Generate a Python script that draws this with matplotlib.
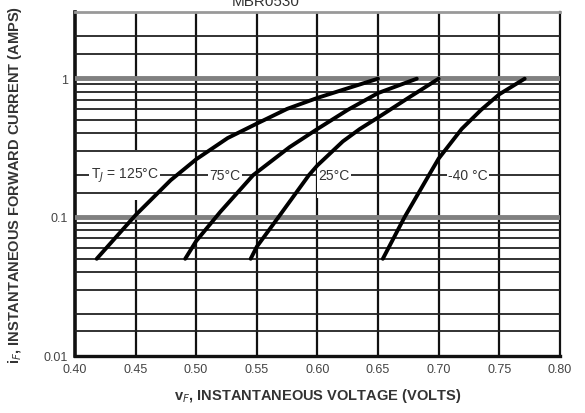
import numpy as np
import matplotlib
matplotlib.use("Agg")
import matplotlib.pyplot as plt

plt.rcParams['font.family'] = ['Liberation Sans Narrow', 'Liberation Sans', 'DejaVu Sans']

# Data (volts, amps)
v_125 = [0.418, 0.450, 0.479, 0.500, 0.526, 0.550, 0.575, 0.600, 0.626, 0.650]
i_125 = [0.050, 0.103, 0.184, 0.260, 0.370, 0.470, 0.600, 0.720, 0.850, 0.990]

v_75 = [0.491, 0.500, 0.520, 0.547, 0.577, 0.600, 0.625, 0.650, 0.682]
i_75 = [0.050, 0.067, 0.109, 0.200, 0.318, 0.430, 0.590, 0.780, 0.990]

v_25 = [0.545, 0.550, 0.568, 0.593, 0.600, 0.621, 0.635, 0.650, 0.675, 0.700]
i_25 = [0.050, 0.061, 0.100, 0.200, 0.235, 0.350, 0.430, 0.520, 0.720, 0.990]

v_m40 = [0.654, 0.672, 0.692, 0.700, 0.719, 0.735, 0.750, 0.771]
i_m40 = [0.050, 0.100, 0.200, 0.263, 0.430, 0.590, 0.764, 0.990]

curve_labels = ["T$_J$ = 125°C", "75°C", "25°C", "-40 °C"]
label_v = [0.441, 0.524, 0.614, 0.724]
label_i = 0.2

x_ticks = [0.40, 0.45, 0.50, 0.55, 0.60, 0.65, 0.70, 0.75, 0.80]
x_tick_labels = ["0.40", "0.45", "0.50", "0.55", "0.60", "0.65", "0.70", "0.75", "0.80"]
y_ticks = [0.01, 0.1, 1]
y_tick_labels = ["0.01", "0.1", "1"]

grid_levels = [0.015, 0.02, 0.03, 0.04, 0.05, 0.06, 0.07, 0.08, 0.09,
               0.15, 0.3, 0.4, 0.5, 0.6, 0.7, 0.8, 0.9, 1.5, 2]

fig = plt.figure(figsize=(5.85, 4.14), dpi=100)
ax = fig.add_axes([0.128, 0.138, 0.829, 0.831])
ax.set_yscale('log')
ax.set_xlim(0.40, 0.80)
ax.set_ylim(0.01, 3)

# Grid
for xv in x_ticks[1:-1]:
    ax.axvline(xv, color='#111111', lw=1.6, zorder=1)
for yv in grid_levels:
    ax.axhline(yv, color='#222222', lw=1.3, zorder=3)
ax.axhline(label_i, color='#222222', lw=1.3, zorder=1)
for yv in [0.1, 1]:
    ax.axhline(yv, color='#808080', lw=3.5, zorder=3)

# Labels sit on white boxes over the grid
for txt, xv in zip(curve_labels, label_v):
    ax.text(xv, label_i, "\n" + txt + "\n", ha='center', va='center',
            fontsize=10, color='#333333', linespacing=1.05, zorder=2,
            bbox=dict(facecolor='white', edgecolor='none', pad=1.0))

# Curves
for vv, ii in [(v_125, i_125), (v_75, i_75), (v_25, i_25), (v_m40, i_m40)]:
    ax.plot(vv, ii, color='black', lw=2.8, solid_capstyle='round',
            solid_joinstyle='round', zorder=5)

ax.set_xticks(x_ticks)
ax.set_xticklabels(x_tick_labels)
ax.set_yticks(y_ticks)
ax.set_yticklabels(y_tick_labels)
ax.minorticks_off()
ax.tick_params(length=0, labelsize=9, labelcolor='#444444', pad=5)

for side in ['left', 'bottom', 'right']:
    ax.spines[side].set_color('#111111')
ax.spines['left'].set_linewidth(2.6)
ax.spines['bottom'].set_linewidth(2.4)
ax.spines['right'].set_linewidth(1.6)
ax.spines['top'].set_color('#999999')
ax.spines['top'].set_linewidth(2.0)

ax.set_xlabel("v$_F$, INSTANTANEOUS VOLTAGE (VOLTS)", fontsize=10.5,
              color='#333333', fontweight='bold', labelpad=8)
ax.set_ylabel("i$_F$, INSTANTANEOUS FORWARD CURRENT (AMPS)", fontsize=10.5,
              color='#333333', fontweight='bold', labelpad=14)

fig.text(0.455, 0.995, "MBR0530", ha='center', va='center', fontsize=11, color='#333333')

fig.savefig("out.png", dpi=100)
